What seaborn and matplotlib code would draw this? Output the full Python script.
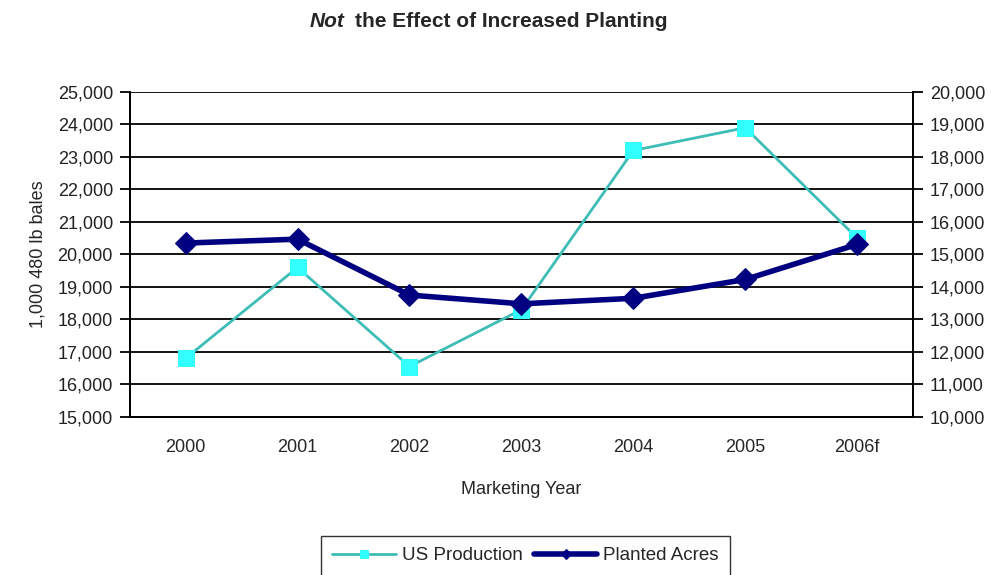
import pandas as pd
import matplotlib.pyplot as plt
import seaborn as sns
from matplotlib.ticker import FuncFormatter, MultipleLocator

# Données
years = ["2000", "2001", "2002", "2003", "2004", "2005", "2006f"]
us_production = [16800, 19600, 16550, 18300, 23200, 23900, 20500]
planted_acres = [15350, 15470, 13750, 13480, 13650, 14230, 15310]

df = pd.DataFrame({"Year": years, "US Production": us_production, "Planted Acres": planted_acres})
df["pos"] = range(len(years))

sns.set_style("white")
plt.rcParams["font.family"] = ["Liberation Sans", "DejaVu Sans"]

fig = plt.figure(figsize=(9.97, 5.75), dpi=100)
ax = fig.add_axes([0.130, 0.275, 0.786, 0.565])
ax2 = ax.twinx()

sns.lineplot(data=df, x="pos", y="US Production", ax=ax, color="#3DBDB5", linewidth=2,
             marker="s", markersize=11, markerfacecolor="#33FFFF", markeredgecolor="#33FFFF",
             label="US Production", legend=False)
sns.lineplot(data=df, x="pos", y="Planted Acres", ax=ax2, color="#000080", linewidth=4,
             marker="D", markersize=11, markerfacecolor="#000080", markeredgecolor="#000080",
             label="Planted Acres", legend=False)
ax.set_zorder(1)
ax2.set_zorder(2)
ax2.patch.set_visible(False)

fmt = FuncFormatter(lambda v, p: f"{int(v):,}")
ax.set_ylim(15000, 25000)
ax2.set_ylim(10000, 20000)
ax.yaxis.set_major_locator(MultipleLocator(1000))
ax2.yaxis.set_major_locator(MultipleLocator(1000))
ax.yaxis.set_major_formatter(fmt)
ax2.yaxis.set_major_formatter(fmt)

ax.set_xlim(-0.5, len(years) - 0.5)
ax.set_xticks([i for i in range(len(years))])
ax.set_xticklabels(years)
ax.set_xticks([i - 0.5 for i in range(len(years) + 1)], minor=True)
ax.tick_params(axis="x", which="major", length=0, pad=16, labelsize=13)
ax.tick_params(axis="x", which="minor", length=7, width=1.3, direction="out", color="black")
ax.tick_params(axis="y", length=7, width=1.3, direction="out", color="black", labelsize=13,
               labelcolor="#222222", pad=5)
ax2.tick_params(axis="y", length=7, width=1.3, direction="out", color="black", labelsize=13,
                labelcolor="#222222", pad=5)

ax.grid(axis="y", color="black", linewidth=1.3)
for a in (ax, ax2):
    a.spines["top"].set_visible(False)
    for s in ("left", "right", "bottom"):
        a.spines[s].set_color("black")
        a.spines[s].set_linewidth(1.3)

ax.set_xlabel("Marketing Year", fontsize=13, labelpad=18)
ax.set_ylabel("1,000 480 lb bales", fontsize=13, labelpad=8)
ax2.set_ylabel("")

fig.text(0.311, 0.962, "Not", style="italic", fontweight="bold", fontsize=15, ha="left", va="center")
fig.text(0.356, 0.962, "the Effect of Increased Planting", fontweight="bold", fontsize=15,
         ha="left", va="center")

h1, l1 = ax.get_legend_handles_labels()
h2, l2 = ax2.get_legend_handles_labels()
fig.legend(h1 + h2, l1 + l2, loc="upper center", bbox_to_anchor=(0.527, 0.068), ncol=2,
           frameon=True, fancybox=False, edgecolor="black", fontsize=13.5,
           handlelength=3.4, handletextpad=0.3, columnspacing=0.6, markerscale=0.5,
           borderpad=0.6, borderaxespad=0)

fig.savefig("out.png", dpi=100)
